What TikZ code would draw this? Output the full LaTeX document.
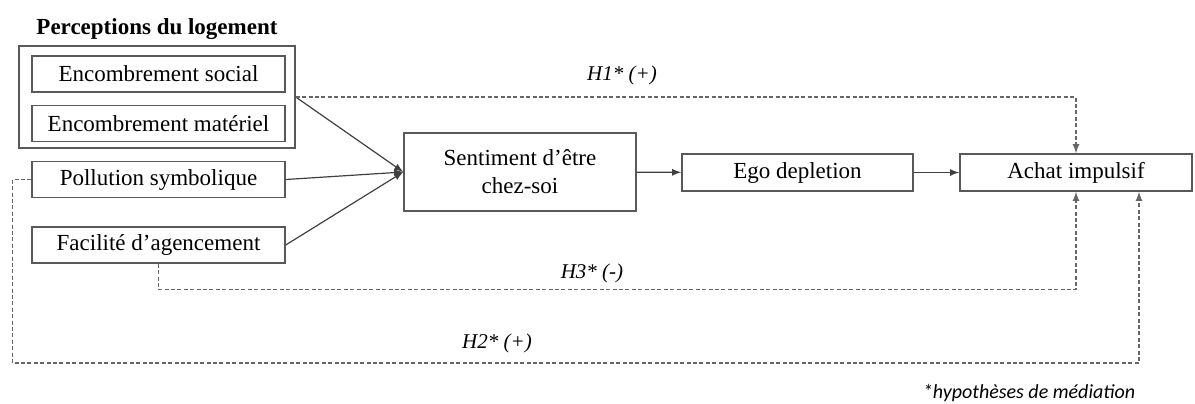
\documentclass[tikz,border=0pt]{standalone}
\usepackage{fontspec}
\setmainfont{Liberation Serif}
\newfontfamily\notefont{Carlito}
\usetikzlibrary{arrows}

\tikzset{
  box/.style={draw=black!65, line width=0.7pt, minimum width=126.5pt, minimum height=18pt,
    inner sep=0pt, font=\fontsize{11.5}{14}\selectfont},
  link/.style={draw=black!75, line width=0.6pt, ->, >=latex},
  hyp/.style={draw=black!60, line width=0.6pt, dash pattern=on 2pt off 1.2pt, ->, >=latex},
  hyplabel/.style={font=\fontsize{10.5}{13}\selectfont\itshape}
}

\begin{document}
\begin{tikzpicture}[x=0.5pt, y=-0.5pt]
        \useasboundingbox (0,0) rectangle (1195,403);

        % perceptions du logement
        \node[font=\fontsize{11.5}{14}\selectfont\bfseries] (title) at (157,29) {Perceptions du logement};
        \node[box] (social) at (158.5,74) {Encombrement social};
        \node[box] (materiel) at (158.5,123.5) {Encombrement matériel};
        \node[draw=black!65, line width=0.7pt, minimum width=138pt, minimum height=51pt, inner sep=0pt] (group) at (157,97) {};
        \node[box] (pollution) at (158.5,179.5) {Pollution symbolique};
        \node[box] (facilite) at (158.5,245) {Facilité d’agencement};

        \node[box, minimum width=116pt, minimum height=39pt, align=center] (sentiment) at (520,172) {Sentiment d’être\\chez-soi};
        \node[box, minimum width=115.5pt, minimum height=18.5pt] (ego) at (797.5,172.5) {Ego depletion};
        \node[box, minimum width=116pt, minimum height=18.5pt] (achat) at (1076,172.5) {Achat impulsif};

        \draw[link] (group.east) -- (sentiment.west);
        \draw[link] (pollution.east) -- (sentiment.west);
        \draw[link] (facilite.east) -- (sentiment.west);
        \draw[link] (sentiment) -- (ego);
        \draw[link] (ego) -- (achat);

        % hypotheses de mediation
        \draw[hyp] (group.east) -| (achat.north);
        \node[hyplabel] (h1) at (622,75) {H1* (+)};

        \draw[hyp] (facilite.south) -- ++(0,26) -| (achat.south);
        \node[hyplabel] (h3) at (592,273) {H3* (-)};

        \draw[hyp] (pollution.west) -- ++(-19,0) -- ++(0,183.5) -| ([xshift=31.5pt]achat.south);
        \node[hyplabel] (h2) at (497,343) {H2* (+)};

        \node[font=\notefont\fontsize{10}{12}\selectfont\itshape] (note) at (1029,393) {*hypothèses de médiation};
    \end{tikzpicture}
\end{document}
